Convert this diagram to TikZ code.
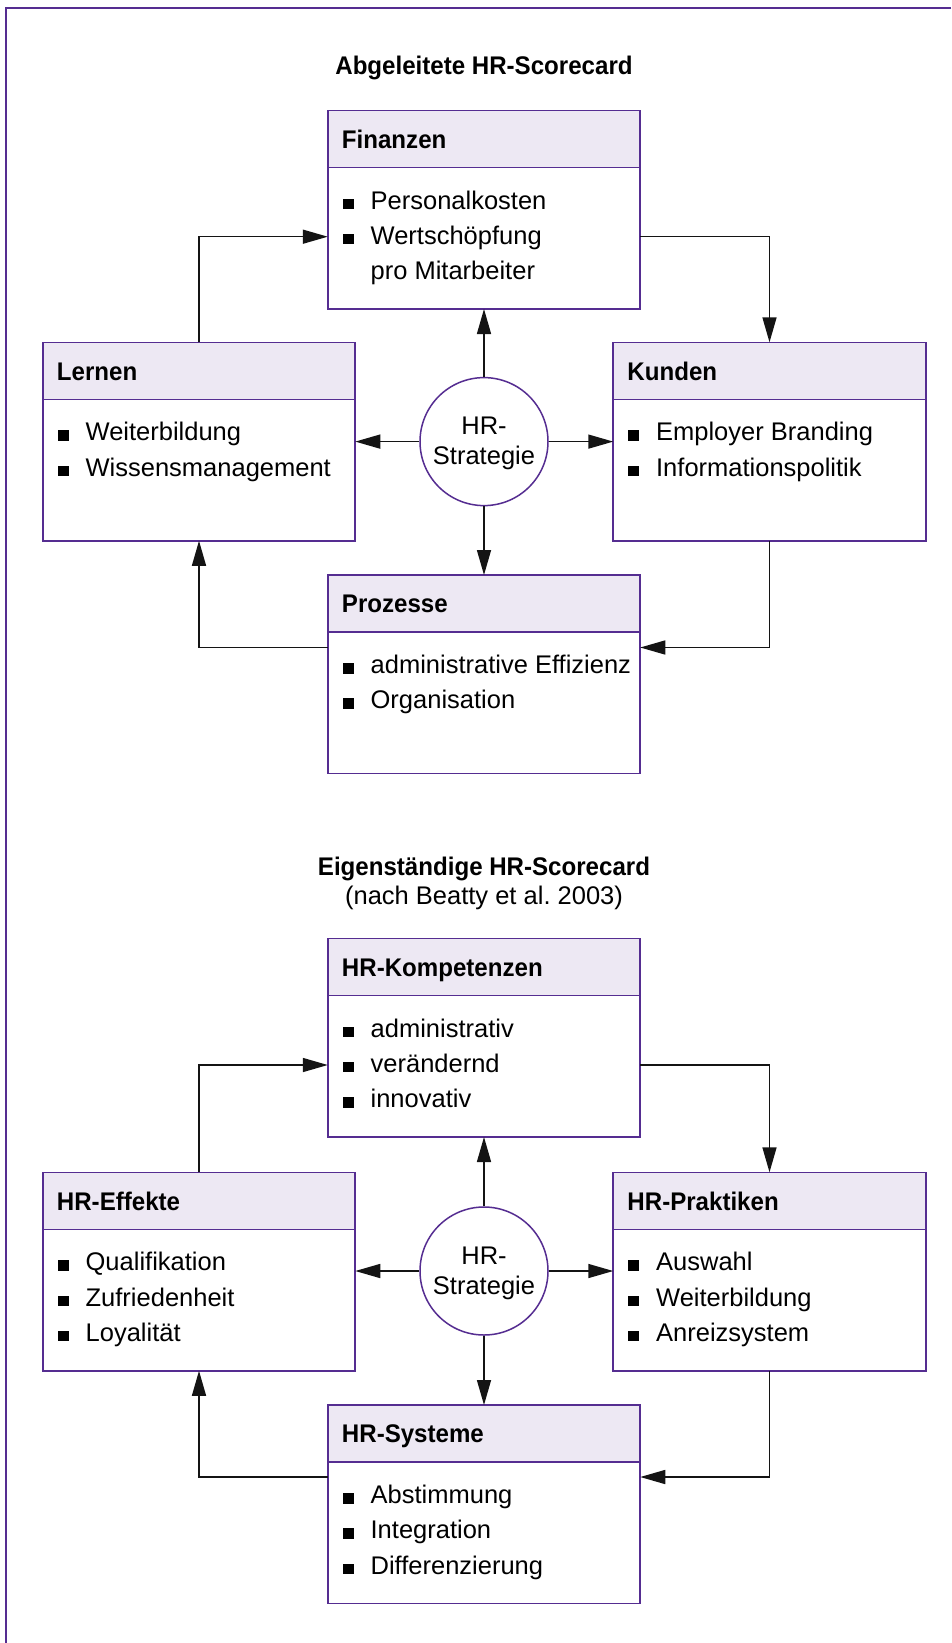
\documentclass[tikz,border=0pt]{standalone}
\usepackage{fontspec}
\setmainfont{Liberation Sans}
\newfontfamily\hdfam{Liberation Sans}[FakeStretch=0.945]
\usetikzlibrary{arrows.meta,calc}
\frenchspacing
\definecolor{bord}{RGB}{85,45,145}
\definecolor{hdfill}{RGB}{237,232,243}
\definecolor{conn}{RGB}{20,20,20}
\newcommand\bodyf{\fontsize{25.5pt}{35.3pt}\selectfont}
\newcommand\headf{\hdfam\bfseries\fontsize{25.5pt}{30pt}\selectfont}
\newcommand\sbul{\makebox[27.9pt][l]{\rule{11pt}{10.5pt}}}
\newcommand\sitem[1]{\hbox{\sbul #1}}
\newcommand\scont[1]{\hbox{\hskip27.9pt #1}}
\newcommand\slist[1]{\vtop{\baselineskip=35.3pt #1}}
\newcommand\strat{\raisebox{-2pt}[\height][\depth]{\begin{tabular}{@{}c@{}}HR-\\Strategie\end{tabular}}}
\tikzset{
  boxgeo/.style={rectangle, minimum width=312.5pt, minimum height=198.5pt, inner sep=0pt, outer sep=0pt, anchor=north},
  bordline/.style={draw=bord, line width=1.6pt},
  hdtext/.style={anchor=base west, inner sep=0pt, font=\headf},
  bdtext/.style={anchor=base west, inner sep=0pt, font=\bodyf},
  circ/.style={circle, draw=bord, line width=1.5pt, fill=white, minimum size=128pt, inner sep=0pt, font=\fontsize{25.5pt}{30pt}\selectfont},
  arr/.style={draw=conn, line width=1.5pt, -{Triangle[length=25pt,width=14pt]}},
  ttl/.style={anchor=base, inner sep=0pt, font=\headf},
  sub/.style={anchor=base, inner sep=0pt, font=\bodyf},
}
\newcommand\scbox[5]{%
  \node[boxgeo] (#1) at (#2,#3) {};
  \fill[hdfill] (#1.north west) rectangle ([yshift=-57pt]#1.north east);
  \draw[bordline] ([yshift=-57pt]#1.north west) -- ([yshift=-57pt]#1.north east);
  \draw[bordline] (#1.north west) rectangle (#1.south east);
  \node[hdtext] (#1h) at ([xshift=14pt,yshift=-37.7pt]#1.north west) {#4};
  \node[bdtext] (#1b) at ([xshift=14.8pt,yshift=-98.5pt]#1.north west) {\slist{#5}};
}
\begin{document}
\begin{tikzpicture}[x=1pt,y=-1pt]
\useasboundingbox (0,0) rectangle (951,1643);
\fill[white] (0,0) rectangle (951,1643);
\draw[bord, line width=2pt] (951,7.7) -- (5.5,7.7) -- (5.5,1643);

% ---------- Abgeleitete HR-Scorecard ----------
\node[ttl] (t1) at (484,74.5) {Abgeleitete HR-Scorecard};
\scbox{fin}{484}{110.5}{Finanzen}{\sitem{Personalkosten}\sitem{Wertschöpfung}\scont{pro Mitarbeiter}}
\scbox{lern}{199}{342.3}{Lernen}{\sitem{Weiterbildung}\sitem{Wissensmanagement}}
\scbox{kund}{769.5}{342.3}{Kunden}{\sitem{Employer Branding}\sitem{Informationspolitik}}
\scbox{proz}{484}{575}{Prozesse}{\sitem{administrative Effizienz}\sitem{Organisation}}
\node[circ] (c1) at (484,441.6) {\strat};

\draw[arr] (lern.north) |- ([yshift=-126.2pt]fin.north west);
\draw[arr] ([yshift=-126.2pt]fin.north east) -| (kund.north);
\draw[arr] (kund.south) |- ([yshift=-72.5pt]proz.north east);
\draw[arr] ([yshift=-72.5pt]proz.north west) -| (lern.south);
\draw[arr] (c1.north) -- (c1.north |- fin.south);
\draw[arr] (c1.south) -- (c1.south |- proz.north);
\draw[arr] (c1.west) -- (c1.west -| lern.east);
\draw[arr] (c1.east) -- (c1.east -| kund.west);

% ---------- Eigenstaendige HR-Scorecard ----------
\node[ttl] (t2) at (484,875) {Eigenständige HR-Scorecard};
\node[sub] (t2s) at (484,904.5) {(nach Beatty et al. 2003)};
\scbox{komp}{484}{938.5}{HR-Kompetenzen}{\sitem{administrativ}\sitem{verändernd}\sitem{innovativ}}
\scbox{eff}{199}{1172.3}{HR-Effekte}{\sitem{Qualifikation}\sitem{Zufriedenheit}\sitem{Loyalität}}
\scbox{prak}{769.5}{1172.3}{HR-Praktiken}{\sitem{Auswahl}\sitem{Weiterbildung}\sitem{Anreizsystem}}
\scbox{sys}{484}{1405}{HR-Systeme}{\sitem{Abstimmung}\sitem{Integration}\sitem{Differenzierung}}
\node[circ] (c2) at (484,1271) {\strat};

\draw[arr] (eff.north) |- ([yshift=-126.5pt]komp.north west);
\draw[arr] ([yshift=-126.5pt]komp.north east) -| (prak.north);
\draw[arr] (prak.south) |- ([yshift=-72pt]sys.north east);
\draw[arr] ([yshift=-72pt]sys.north west) -| (eff.south);
\draw[arr] (c2.north) -- (c2.north |- komp.south);
\draw[arr] (c2.south) -- (c2.south |- sys.north);
\draw[arr] (c2.west) -- (c2.west -| eff.east);
\draw[arr] (c2.east) -- (c2.east -| prak.west);
\end{tikzpicture}
\end{document}
